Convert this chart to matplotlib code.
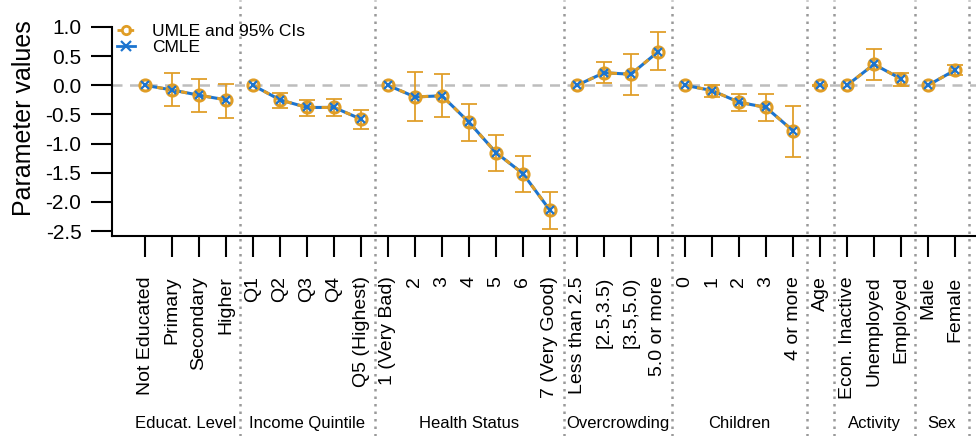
import matplotlib
matplotlib.use("Agg")
import matplotlib.pyplot as plt
import matplotlib.transforms as mtransforms
import numpy as np

plt.rcParams['font.family'] = ['Liberation Sans', 'DejaVu Sans']

# groups and their levels
groups = ["Educat. Level", "Income Quintile", "Health Status", "Overcrowding",
          "Children", "", "Activity", "Sex"]
levels = [
    ["Not Educated", "Primary", "Secondary", "Higher"],
    ["Q1", "Q2", "Q3", "Q4", "Q5 (Highest)"],
    ["1 (Very Bad)", "2", "3", "4", "5", "6", "7 (Very Good)"],
    ["Less than 2.5", "[2.5,3.5)", "[3.5,5.0)", "5.0 or more"],
    ["0", "1", "2", "3", "4 or more"],
    ["Age"],
    ["Econ. Inactive", "Unemployed", "Employed"],
    ["Male", "Female"],
]

# unconstrained estimates with 95% CI, and constrained estimates
umle = [
    [0.0, -0.08, -0.17, -0.25],
    [0.0, -0.25, -0.38, -0.38, -0.58],
    [0.0, -0.20, -0.18, -0.635, -1.155, -1.515, -2.145],
    [0.0, 0.215, 0.19, 0.575],
    [0.0, -0.09, -0.29, -0.38, -0.78],
    [0.0],
    [0.0, 0.36, 0.11],
    [0.0, 0.26],
]
lower = [
    [0.0, -0.355, -0.46, -0.56],
    [0.0, -0.39, -0.52, -0.52, -0.75],
    [0.0, -0.62, -0.54, -0.955, -1.465, -1.825, -2.46],
    [0.0, 0.045, -0.17, 0.255],
    [0.0, -0.20, -0.435, -0.62, -1.225],
    [-0.01],
    [0.0, 0.09, -0.02],
    [0.0, 0.18],
]
upper = [
    [0.0, 0.205, 0.11, 0.03],
    [0.0, -0.14, -0.25, -0.24, -0.42],
    [0.0, 0.22, 0.19, -0.315, -0.85, -1.21, -1.825],
    [0.0, 0.395, 0.535, 0.91],
    [0.0, 0.0, -0.155, -0.155, -0.355],
    [0.01],
    [0.0, 0.62, 0.215],
    [0.0, 0.35],
]
cmle = [list(g) for g in umle]

orange = "#E09D25"
blue = "#1C74CF"

fig = plt.figure(figsize=(9.76, 4.36), dpi=100)
ax = fig.add_axes([112 / 976, 200 / 436, 864 / 976, 236 / 436])

ax.axhline(0, color="#BDBDBD", lw=1.8, ls=(0, (4, 3)), zorder=1)

pos = 1
seps = []
centers = []
tick_pos = []
tick_lab = []
for g in range(len(groups)):
    n = len(levels[g])
    x = np.arange(pos, pos + n)
    y = np.array(umle[g])
    lo = np.array(lower[g])
    hi = np.array(upper[g])
    # the reference level has no interval (except the single Age term)
    k = 0 if n == 1 else 1
    ax.errorbar(x[k:], y[k:], yerr=[(y - lo)[k:], (hi - y)[k:]],
                fmt="none", ecolor=orange, elinewidth=1.4, capsize=6,
                capthick=1.4, zorder=2, alpha=0.9)
    ax.plot(x, cmle[g], color=blue, lw=2.2, zorder=3)
    ax.plot(x, y, color=orange, lw=2.2, ls=(0, (2, 2)), zorder=4)
    ax.plot(x, y, ls="none", marker="o", ms=8, mfc="none", mec=orange,
            mew=2.2, zorder=5)
    ax.plot(x, cmle[g], ls="none", marker="x", ms=5.5, mec=blue,
            mew=1.6, zorder=6)
    tick_pos += list(x)
    tick_lab += levels[g]
    centers.append(pos + (n - 1) / 2)
    pos += n
    seps.append(pos - 0.5)

ax.set_xlim(1 - 33 / 27, 1 + 831 / 27)
ax.set_ylim(-2.585, 1.463)

yt = np.arange(-2.5, 1.01, 0.5)
ax.set_yticks(yt)
ax.set_yticklabels(["%.1f" % v for v in yt])
ax.set_xticks(tick_pos)
ax.set_xticklabels(tick_lab, rotation=90, va="top", ha="center")
ax.tick_params(axis="both", length=15, width=1.5)
ax.tick_params(axis="x", pad=14, labelsize=14)
ax.tick_params(axis="y", pad=7, labelsize=15)

for s in ["top", "right"]:
    ax.spines[s].set_visible(False)
ax.spines["left"].set_bounds(-2.585, 1.0)
ax.spines["left"].set_linewidth(1.5)
ax.spines["bottom"].set_linewidth(1.5)

for s in seps:
    ax.axvline(s, ymin=-200 / 236, ymax=1.0, color="#9A9A9A", lw=1.8,
               ls=(0, (1, 2)), clip_on=False, zorder=0)

trans = mtransforms.blended_transform_factory(ax.transData, fig.transFigure)
for c, g in zip(centers, groups):
    ax.text(c, 1 - 423 / 436, g, transform=trans, ha="center", va="center",
            fontsize=12)

ax.set_ylabel("Parameter values", fontsize=18)
ax.yaxis.set_label_coords(-(112 - 36) / 864, 0.5)

h1, = ax.plot([], [], color=orange, ls=(0, (2, 2)), lw=2, marker="o",
              ms=6, mfc="none", mec=orange, mew=2)
h2, = ax.plot([], [], color=blue, lw=2, marker="x", ms=7, mec=blue, mew=1.6)
fig.legend([h1, h2], ["UMLE and 95% CIs", "CMLE"], loc="upper left",
           bbox_to_anchor=(117 / 976, 1 - 24 / 436), frameon=False,
           fontsize=12.5, handlelength=1.05, handletextpad=0.95,
           labelspacing=0.02, borderpad=0, borderaxespad=0)

fig.savefig("out.png", dpi=100)
